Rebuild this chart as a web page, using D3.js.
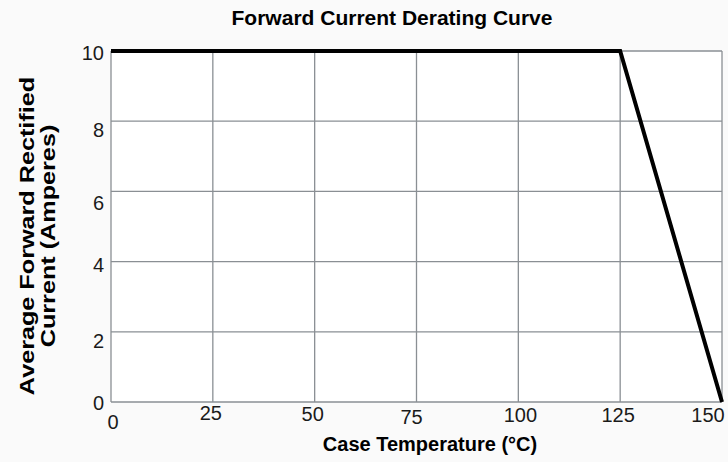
<!DOCTYPE html>
<html><head><meta charset="utf-8">
<script src="https://cdn.jsdelivr.net/npm/d3@7"></script>
<style>
html,body{margin:0;padding:0;background:#fafafa;}
svg{display:block;font-family:"Liberation Sans",Arial,sans-serif;}
</style></head>
<body>
<svg id="chart" width="728" height="462"></svg>
<script>
const temperatures = [0, 125, 150];
const currents = [10, 10, 0];
const xTicks = [0, 25, 50, 75, 100, 125, 150];
const yTicks = [0, 2, 4, 6, 8, 10];
const title = "Forward Current Derating Curve";
const xTitle = "Case Temperature (°C)";
const yTitle = ["Average Forward Rectified", "Current (Amperes)"];

const svg = d3.select("#chart");
const L = 111, R = 722, T = 51, B = 402;
const x = d3.scaleLinear().domain([0, 150]).range([L, R]);
const y = d3.scaleLinear().domain([0, 10]).range([B, T]);

svg.append("rect").attr("x", L).attr("y", T).attr("width", R - L).attr("height", B - T).attr("fill", "#fff");

const g = svg.append("g");
g.selectAll(".vg").data(xTicks).enter().append("line")
  .attr("x1", d => x(d)).attr("x2", d => x(d)).attr("y1", T).attr("y2", B)
  .attr("stroke", "#8a8f94").attr("stroke-width", 1.3);
g.selectAll(".hg").data(yTicks).enter().append("line")
  .attr("x1", L).attr("x2", R).attr("y1", d => y(d)).attr("y2", d => y(d))
  .attr("stroke", "#8a8f94").attr("stroke-width", 1.3);

// Y tick labels (small per-label vertical nudges as in the scanned original)
const yNudge = {0: 1, 2: 9, 4: 3, 6: 12, 8: 9, 10: 2};
svg.selectAll(".yl").data(yTicks).enter().append("text")
  .attr("x", L - 7).attr("y", d => y(d) + yNudge[d] + 7)
  .attr("text-anchor", "end").attr("font-size", 20).attr("fill", "#1a1a1a")
  .text(d => d);

// X tick labels
const xNudge = {0: [2, 20], 25: [-2, 11], 50: [-2, 12], 75: [-5, 15], 100: [2, 13], 125: [-2, 13], 150: [-14, 13]};
svg.selectAll(".xl").data(xTicks).enter().append("text")
  .attr("x", d => x(d) + xNudge[d][0])
  .attr("y", d => B + xNudge[d][1] + 7)
  .attr("text-anchor", "middle").attr("font-size", 20).attr("fill", "#1a1a1a")
  .text(d => d);

// Curve
const line = d3.line().x((d, i) => x(temperatures[i])).y(d => y(d));
svg.append("path").datum(currents).attr("d", line)
  .attr("fill", "none").attr("stroke", "#000").attr("stroke-width", 4)
  .attr("stroke-linejoin", "miter");

// Titles
svg.append("text").attr("x", 392).attr("y", 25).attr("text-anchor", "middle")
  .attr("font-size", 21).attr("font-weight", "bold").attr("fill", "#000").text(title);
svg.append("text").attr("x", 430).attr("y", 451).attr("text-anchor", "middle")
  .attr("font-size", 20).attr("font-weight", "bold").attr("fill", "#000").text(xTitle);
const yt = svg.append("g").attr("transform", "translate(0,236) rotate(-90) scale(1.2,1)");
yt.selectAll("text").data(yTitle).enter().append("text")
  .attr("x", 0).attr("y", (d, i) => 34 + i * 21)
  .attr("text-anchor", "middle").attr("font-size", 21).attr("font-weight", "bold").attr("fill", "#000")
  .text(d => d);
</script>
</body></html>
